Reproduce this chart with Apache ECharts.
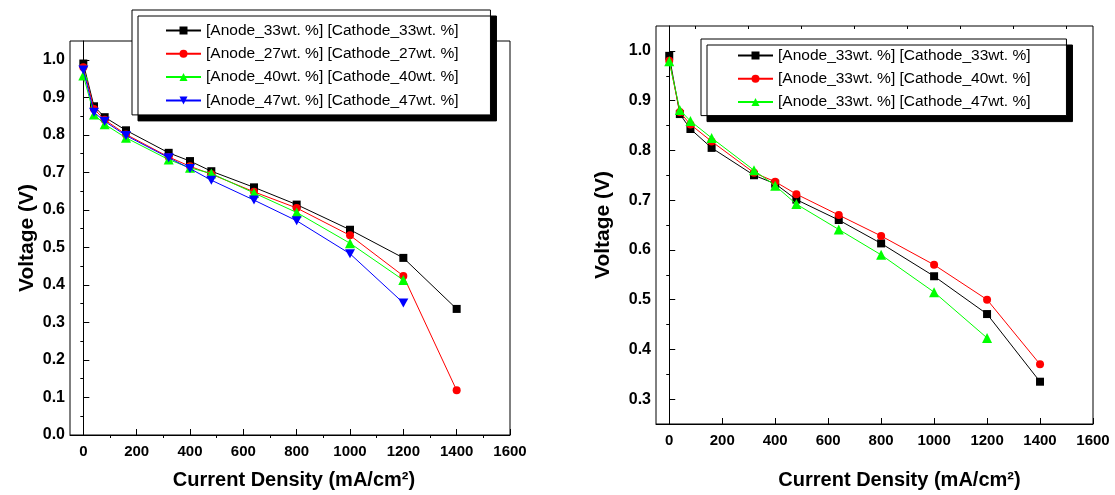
<!DOCTYPE html>
<html><head><meta charset="utf-8">
<script src="https://cdn.jsdelivr.net/npm/echarts@6/dist/echarts.min.js"></script>
<style>html,body{margin:0;padding:0;background:#fff}#c{width:1115px;height:495px}</style>
</head><body><div id="c"></div>
<script>
// ---- data ----
const currentDensity = [0, 40, 80, 160, 320, 400, 480, 640, 800, 1000, 1200, 1400];

const leftNames = [
  '[Anode_33wt. %] [Cathode_33wt. %]',
  '[Anode_27wt. %] [Cathode_27wt. %]',
  '[Anode_40wt. %] [Cathode_40wt. %]',
  '[Anode_47wt. %] [Cathode_47wt. %]'
];
const left_A33C33 = [0.990, 0.876, 0.847, 0.812, 0.752, 0.730, 0.703, 0.660, 0.614, 0.547, 0.472, 0.336];
const left_A27C27 = [0.980, 0.869, 0.840, 0.801, 0.741, 0.716, 0.695, 0.648, 0.605, 0.532, 0.424, 0.119];
const left_A40C40 = [0.958, 0.854, 0.828, 0.792, 0.734, 0.712, 0.697, 0.645, 0.593, 0.511, 0.413];
const left_A47C47 = [0.973, 0.860, 0.836, 0.798, 0.739, 0.710, 0.679, 0.626, 0.571, 0.483, 0.352];

const rightNames = [
  '[Anode_33wt. %] [Cathode_33wt. %]',
  '[Anode_33wt. %] [Cathode_40wt. %]',
  '[Anode_33wt. %] [Cathode_47wt. %]'
];
const right_A33C33 = [0.990, 0.873, 0.843, 0.805, 0.750, 0.733, 0.701, 0.660, 0.613, 0.547, 0.471, 0.335];
const right_A33C40 = [0.980, 0.877, 0.852, 0.818, 0.755, 0.737, 0.712, 0.670, 0.628, 0.570, 0.500, 0.370];
const right_A33C47 = [0.979, 0.881, 0.859, 0.825, 0.760, 0.729, 0.692, 0.641, 0.590, 0.515, 0.423];

const xTicks = [0, 200, 400, 600, 800, 1000, 1200, 1400, 1600];
const xMinorTicks = [100, 300, 500, 700, 900, 1100, 1300, 1500];
const yTicksLeft = [0.0, 0.1, 0.2, 0.3, 0.4, 0.5, 0.6, 0.7, 0.8, 0.9, 1.0];
const yMinorLeft = [0.05, 0.15, 0.25, 0.35, 0.45, 0.55, 0.65, 0.75, 0.85, 0.95];
const yTicksRight = [0.3, 0.4, 0.5, 0.6, 0.7, 0.8, 0.9, 1.0];
const yMinorRight = [0.35, 0.45, 0.55, 0.65, 0.75, 0.85, 0.95];

const xTitle = 'Current Density (mA/cm²)';
const yTitle = 'Voltage (V)';

// ---- styles ----
const FB = "'Liberation Sans',Arial,sans-serif";
const DOWN_TRI = 'path://M0,0 L10,0 L5,9 Z';

const pair = ys => ys.map((v, i) => [currentDensity[i], v]);

function mainX(grid, padL) {
  return {
    type: 'value', gridIndex: grid, min: -50, max: 1600,
    axisLine: { show: true, lineStyle: { color: '#000', width: 1 } },
    axisTick: { show: true, inside: true, length: 6, customValues: xTicks, lineStyle: { color: '#000' } },
    axisLabel: { show: true, customValues: xTicks, formatter: v => String(Math.round(v)), color: '#000', fontFamily: FB, fontWeight: 'bold', fontSize: 15, margin: 9 },
    splitLine: { show: false },
    name: xTitle, nameLocation: 'middle', nameGap: grid === 0 ? 35 : 46,
    nameTextStyle: { fontFamily: FB, fontWeight: 'bold', fontSize: 20, color: '#000', padding: [0, 0, 0, padL] }
  };
}
function minorX(grid) {
  return {
    type: 'value', gridIndex: grid, min: -50, max: 1600,
    axisLine: { show: false },
    axisTick: { show: true, inside: true, length: 3, customValues: xMinorTicks, lineStyle: { color: '#000' } },
    axisLabel: { show: false }, splitLine: { show: false }
  };
}
function mainY(grid, min, ticks, gap) {
  return {
    type: 'value', gridIndex: grid, min: min, max: 1.05,
    axisLine: { show: true, lineStyle: { color: '#000', width: 1 } },
    axisTick: { show: true, inside: true, length: 6, customValues: ticks, lineStyle: { color: '#000' } },
    axisLabel: { show: true, customValues: ticks, formatter: v => Number(v).toFixed(1), color: '#000', fontFamily: FB, fontWeight: 'bold', fontSize: 16, margin: 5 },
    splitLine: { show: false },
    name: yTitle, nameLocation: 'middle', nameGap: gap,
    nameTextStyle: { fontFamily: FB, fontWeight: 'bold', fontSize: 21, color: '#000' }
  };
}
function minorY(grid, min, ticks) {
  return {
    type: 'value', gridIndex: grid, min: min, max: 1.05,
    axisLine: { show: false },
    axisTick: { show: true, inside: true, length: 3, customValues: ticks, lineStyle: { color: '#000' } },
    axisLabel: { show: false }, splitLine: { show: false }
  };
}
function line(name, ys, color, symbol, size, axis, z) {
  return {
    type: 'line', name: name, data: pair(ys), xAxisIndex: axis, yAxisIndex: axis,
    symbol: symbol, symbolSize: size, symbolKeepAspect: true, showSymbol: true,
    lineStyle: { color: color, width: 1 }, itemStyle: { color: color },
    emphasis: { disabled: true }, z: z, animation: false
  };
}
function legendBox(left, top, names, padding) {
  return {
    orient: 'vertical', left: left, top: top, data: names,
    itemWidth: 35, itemHeight: 10, itemGap: 2.3, padding: padding,
    backgroundColor: '#fff', borderColor: '#000', borderWidth: 1,
    shadowColor: '#000', shadowOffsetX: 6, shadowOffsetY: 6, shadowBlur: 0,
    textStyle: { fontFamily: FB, fontSize: 15.5, color: '#000', lineHeight: 21 },
    selectedMode: false, z: 10
  };
}

const chart = echarts.init(document.getElementById('c'), null, { renderer: 'canvas' });
chart.setOption({
  animation: false,
  backgroundColor: '#fff',
  grid: [
    { left: 70, top: 41, width: 440, height: 395, show: true, borderColor: '#000', borderWidth: 1, backgroundColor: 'transparent' },
    { left: 656, top: 26, width: 437, height: 399, show: true, borderColor: '#000', borderWidth: 1, backgroundColor: 'transparent' }
  ],
  xAxis: [mainX(0, 8), minorX(0), mainX(1, 50), minorX(1)],
  yAxis: [mainY(0, 0, yTicksLeft, 32), minorY(0, 0, yMinorLeft), mainY(1, 0.25, yTicksRight, 42), minorY(1, 0.25, yMinorRight)],
  legend: [
    legendBox(132, 10, leftNames, [10, 32, 4, 33]),
    legendBox(701, 39, rightNames, [6, 36, 3, 36])
  ],
  series: [
    line(leftNames[0], left_A33C33, '#000000', 'rect', 8, 0, 2),
    line(leftNames[1], left_A27C27, '#ff0000', 'circle', 8, 0, 3),
    line(leftNames[2], left_A40C40, '#00ff00', 'triangle', 10, 0, 4),
    line(leftNames[3], left_A47C47, '#0000ff', DOWN_TRI, 10, 0, 5),
    line(rightNames[0], right_A33C33, '#000000', 'rect', 8, 2, 2),
    line(rightNames[1], right_A33C40, '#ff0000', 'circle', 8, 2, 3),
    line(rightNames[2], right_A33C47, '#00ff00', 'triangle', 10, 2, 4)
  ]
});
</script></body></html>
